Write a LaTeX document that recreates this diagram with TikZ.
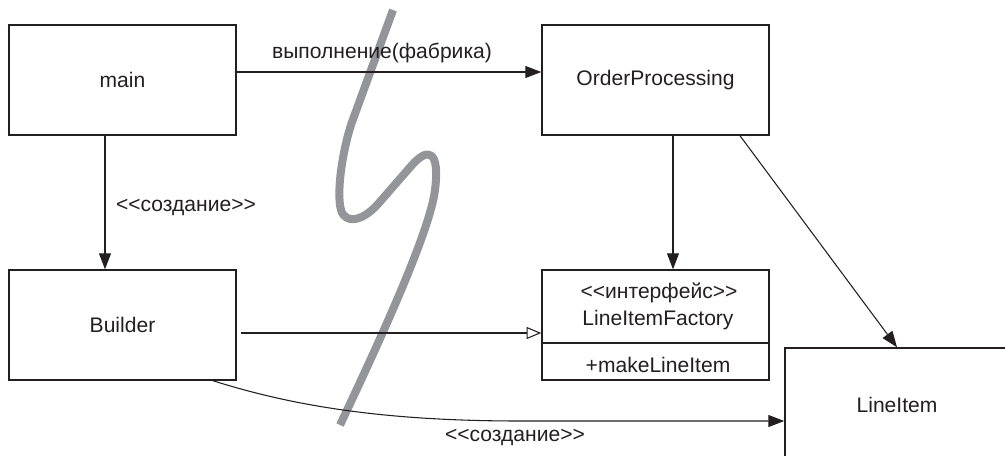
\documentclass[tikz,border=0pt]{standalone}
\usepackage{fontspec}
\setmainfont{Liberation Sans}[Ligatures=TeXOff]
\usetikzlibrary{arrows.meta}
\definecolor{ink}{HTML}{231F20}
\definecolor{squig}{HTML}{939598}
\begin{document}
\begin{tikzpicture}[x=0.75pt,y=-0.75pt,
  font=\fontsize{15.8}{19}\selectfont, text=ink,
  box/.style={draw=ink, line width=1.1pt, minimum width=170.25pt, minimum height=82.5pt, inner sep=0pt},
  conn/.style={draw=ink, line width=0.8pt, -{Triangle[length=12pt,width=9pt]}},
  gen/.style={draw=ink, line width=0.8pt, -{Triangle[open,length=11pt,width=9pt]}},
  lbl/.style={inner sep=0pt}]
\clip (0,0) rectangle (1005,456);
\fill[white] (0,0) rectangle (1005,456);
% gray break line
\draw[squig, line width=6pt, line join=round]
  (393,10) -- (352,122) .. controls (343,148) and (336,192) .. (341,210)
  .. controls (345,224) and (362,222) .. (378,204) -- (412,165)
  .. controls (428,147) and (440,150) .. (435,190)
  .. controls (430,230) and (385,330) .. (340,425);
% boxes
\node[box] (main) at (122.5,80) {main};
\node[box] (builder) at (122.5,325) {Builder};
\node[box] (op) at (655.5,80) {OrderProcessing};
\node[box] (lif) at (655.5,325) {};
\node[box, minimum width=168pt, minimum height=85.5pt] (li) at (897,405) {LineItem};
\draw[ink, line width=1.1pt] ([yshift=-13.5pt]lif.west) -- ([yshift=-13.5pt]lif.east);
\node[lbl] (lifst) at (659,293) {<<интерфейс>>};
\node[lbl] (lifname) at (658,320) {LineItemFactory};
\node[lbl] (lifop) at (658,365) {+makeLineItem};
% connectors
\draw[conn] ([yshift=6pt]main.east) -- ([yshift=6pt]op.west);
\node[lbl] (l1) at (382,53) {выполнение(фабрика)};
\draw[conn] ([xshift=-13.125pt]main.south) -- ([xshift=-13.125pt]builder.north);
\node[lbl] (l2) at (186,207) {<<создание>>};
\draw[gen] ([xshift=3pt,yshift=-6pt]builder.east) -- ([yshift=-6pt]lif.west);
\draw[conn] ([xshift=13.125pt]op.south) -- ([xshift=13.125pt]lif.north);
\draw[conn] ([xshift=63.375pt]op.south) -- (li.north);
\draw[conn] ([xshift=67.875pt]builder.south) .. controls (290,405) and (380,421) .. (520,421) -- ([yshift=-12pt]li.west);
\node[lbl] (l3) at (515,437) {<<создание>>};
\end{tikzpicture}
\end{document}
